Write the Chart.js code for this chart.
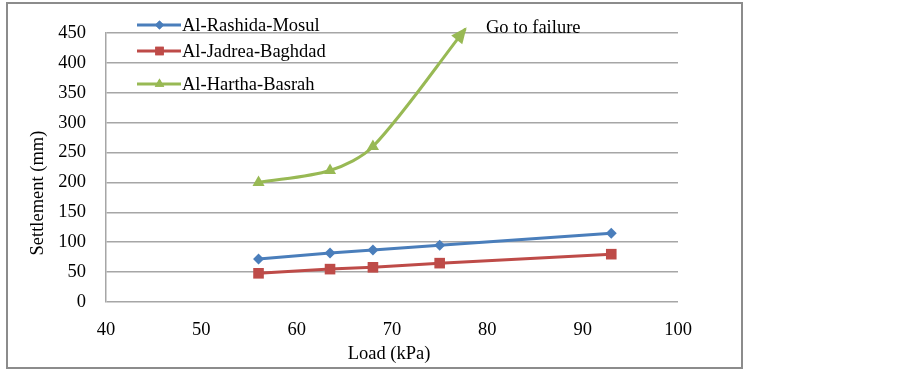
<!DOCTYPE html>
<html>
<head>
<meta charset="utf-8">
<script src="https://cdn.jsdelivr.net/npm/chart.js@4.4.1/dist/chart.umd.min.js"></script>
<style>
  html, body { margin: 0; padding: 0; background: #fff; }
  #wrap { width: 903px; height: 371px; }
</style>
</head>
<body>
<div id="wrap"><canvas id="chart" width="903" height="371"></canvas></div>
<script>
// data
const rashidaLoad = [56, 63.5, 68, 75, 93];
const rashidaSettle = [72, 82, 87, 95, 115];
const jadreaLoad = [56, 63.5, 68, 75, 93];
const jadreaSettle = [48, 55, 58, 65, 80];
const harthaLoad = [56, 63.5, 68, 77.7];
const harthaSettle = [200, 220, 260, 457];

const xTicks = [40, 50, 60, 70, 80, 90, 100];
const yTicks = [0, 50, 100, 150, 200, 250, 300, 350, 400, 450];

const seriesNames = ['Al-Rashida-Mosul', 'Al-Jadrea-Baghdad', 'Al-Hartha-Basrah'];
const blue = '#4a7ebb', red = '#be4b48', green = '#98b954';
const serif = '"Liberation Serif", "Times New Roman", serif';
const fontSize = 18.5;

function pts(xs, ys) {
  return xs.map((x, i) => ({ x: x, y: ys[i] }));
}

// frame, legend, arrowhead and free text
const extras = {
  id: 'extras',
  beforeDraw(chart) {
    const ctx = chart.ctx;
    ctx.save();
    ctx.fillStyle = '#fff';
    ctx.fillRect(0, 0, chart.width, chart.height);
    ctx.strokeStyle = '#8c8c8c';
    ctx.lineWidth = 2;
    ctx.strokeRect(7, 3, 735, 365);
    ctx.restore();
  },
  afterDatasetsDraw(chart) {
    const ctx = chart.ctx;
    ctx.save();
    // arrow head on the Hartha line
    const meta = chart.getDatasetMeta(2);
    const last = meta.data[meta.data.length - 1];
    const prev = meta.data[meta.data.length - 2];
    let dx = last.x - (last.cp1x ?? prev.x);
    let dy = last.y - (last.cp1y ?? prev.y);
    const len = Math.hypot(dx, dy) || 1;
    dx /= len; dy /= len;
    const L = 14, W = 7;
    ctx.fillStyle = green;
    ctx.beginPath();
    ctx.moveTo(last.x + dx * 2, last.y + dy * 2);
    ctx.lineTo(last.x - dx * L - dy * W, last.y - dy * L + dx * W);
    ctx.lineTo(last.x - dx * L + dy * W, last.y - dy * L - dx * W);
    ctx.closePath();
    ctx.fill();

    // text
    ctx.fillStyle = '#000';
    ctx.font = fontSize + 'px ' + serif;
    ctx.textBaseline = 'middle';
    ctx.textAlign = 'left';
    ctx.fillText('Go to failure', 486, 28);

    // legend
    const rows = [25, 51, 84];
    const cols = [blue, red, green];
    const styles = ['rectRot', 'rect', 'triangle'];
    const radii = [4.5, 6, 5.5];
    rows.forEach((y, i) => {
      ctx.strokeStyle = cols[i];
      ctx.lineWidth = 3;
      ctx.beginPath();
      ctx.moveTo(137, y);
      ctx.lineTo(181, y);
      ctx.stroke();
      ctx.fillStyle = cols[i];
      Chart.helpers.drawPoint(ctx, { pointStyle: styles[i], radius: radii[i], borderWidth: 0 }, 159.5, y);
      ctx.fill();
      ctx.fillStyle = '#000';
      ctx.fillText(seriesNames[i], 182, y + 1);
    });

    // axis titles
    ctx.textAlign = 'center';
    ctx.fillText('Load (kPa)', 389, 354);
    ctx.translate(38, 193);
    ctx.rotate(-Math.PI / 2);
    ctx.fillText('Settlement (mm)', 0, 0);
    ctx.restore();
  }
};

function line(label, data, color, style, radius, extra) {
  return Object.assign({
    label: label,
    data: data,
    borderColor: color,
    backgroundColor: color,
    borderWidth: 3,
    pointStyle: style,
    pointRadius: radius,
    pointHoverRadius: radius,
    pointBorderWidth: 0,
    showLine: true,
    tension: 0,
    clip: false
  }, extra || {});
}

new Chart(document.getElementById('chart'), {
  type: 'scatter',
  data: {
    datasets: [
      line(seriesNames[0], pts(rashidaLoad, rashidaSettle), blue, 'rectRot', 5.5),
      line(seriesNames[1], pts(jadreaLoad, jadreaSettle), red, 'rect', 7.5),
      line(seriesNames[2], pts(harthaLoad, harthaSettle), green, 'triangle', 7,
        { pointRadius: [7, 7, 7, 0], tension: 0.3 })
    ]
  },
  options: {
    responsive: false,
    animation: false,
    events: [],
    layout: { padding: { left: 0, top: 33, right: 225, bottom: 0 } },
    plugins: { legend: { display: false }, tooltip: { enabled: false } },
    scales: {
      x: {
        type: 'linear',
        min: 40, max: 100,
        afterBuildTicks: s => { s.ticks = xTicks.map(v => ({ value: v })); },
        afterFit: s => { s.height = 69; },
        grid: { display: false, drawTicks: false },
        border: { display: false },
        ticks: { font: { family: serif, size: fontSize }, color: '#000', padding: 17, maxRotation: 0 }
      },
      y: {
        type: 'linear',
        min: 0, max: 450,
        afterBuildTicks: s => { s.ticks = yTicks.map(v => ({ value: v })); },
        afterFit: s => { s.width = 106; },
        grid: { color: '#a6a6a6', lineWidth: 1.5, drawTicks: false },
        border: { display: true, color: '#a6a6a6', width: 1.5 },
        ticks: { font: { family: serif, size: fontSize }, color: '#000', padding: 20 }
      }
    }
  },
  plugins: [extras]
});
</script>
</body>
</html>
